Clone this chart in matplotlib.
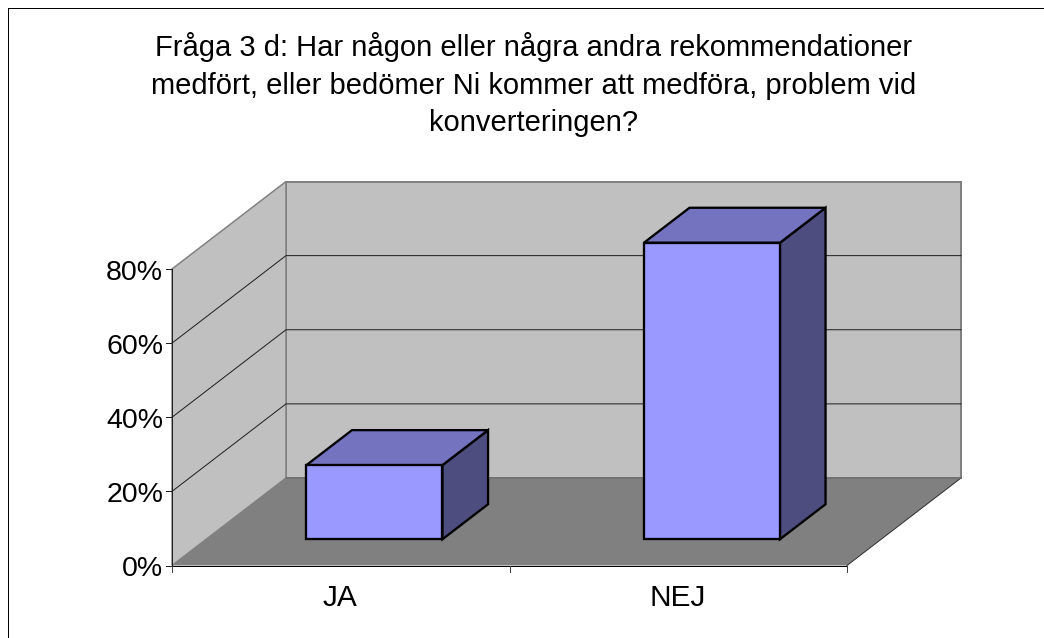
import matplotlib
matplotlib.use("Agg")
import matplotlib.pyplot as plt
from matplotlib.patches import Polygon

plt.rcParams['font.family'] = ['Liberation Sans', 'DejaVu Sans']

# Data
title_text = ("Fråga 3 d: Har någon eller några andra rekommendationer\n"
              "medfört, eller bedömer Ni kommer att medföra, problem vid\n"
              "konverteringen?")
categories = ["JA", "NEJ"]
values = [20, 80]
y_ticks = [0, 20, 40, 60, 80]
y_tick_labels = ["0%", "20%", "40%", "60%", "80%"]

# Oblique projection (layout, in pixels)
X0, Y0 = 172.0, 565.5      # front-left floor corner
CAT_W = 337.5              # pixels per category
PER_VAL = 296.5 / 80       # pixels per percent
DX, DY = 114.0, 87.5       # depth vector
WALL_TOP = 80              # wall height in value units


def P(cat, val, depth):
    return (X0 + cat * CAT_W + depth * DX, Y0 - val * PER_VAL - depth * DY)


fig = plt.figure(figsize=(10.44, 6.38), dpi=100, facecolor='white')
ax = fig.add_axes([0, 0, 1, 1])
ax.set_xlim(0, 1044)
ax.set_ylim(638, 0)
ax.axis('off')

px = 0.72
n = len(categories)
GREY = '#808080'

# Outer frame: top and left edges only
ax.plot([7.5, 1044], [7.5, 7.5], color='black', lw=px, zorder=1)
ax.plot([7.5, 7.5], [7.5, 638], color='black', lw=px, zorder=1)

# Walls and floor
ax.add_patch(Polygon([P(0, 0, 1), P(n, 0, 1), P(n, WALL_TOP, 1), P(0, WALL_TOP, 1)],
                     fc='#C0C0C0', ec=GREY, lw=2 * px, joinstyle='miter', zorder=2))
ax.add_patch(Polygon([P(0, 0, 0), P(0, 0, 1), P(0, WALL_TOP, 1), P(0, WALL_TOP, 0)],
                     fc='#C0C0C0', ec=GREY, lw=1.5 * px, joinstyle='miter', zorder=2))
ax.add_patch(Polygon([P(0, 0, 0), P(n, 0, 0), P(n, 0, 1), P(0, 0, 1)],
                     fc=GREY, ec='none', zorder=3))
ax.plot(*zip(P(n, 0, 0), P(n, 0, 1)), color='#303030', lw=px, zorder=4)
ax.plot(*zip(P(0, 0, 1), P(n, 0, 1)), color='#707070', lw=1.5 * px, zorder=4)

# Gridlines
for v in y_ticks[1:-1]:
    ax.plot(*zip(P(0, v, 0), P(0, v, 1), P(n, v, 1)), color='#202020', lw=px, zorder=4,
            solid_joinstyle='miter')

# Axes
ax.plot(*zip(P(0, 0, 0), P(0, y_ticks[-1], 0)), color='#202020', lw=px, zorder=5)
ax.plot(*zip(P(0, 0, 0), P(n, 0, 0)), color='black', lw=px, zorder=5)
for v, lab in zip(y_ticks, y_tick_labels):
    x, y = P(0, v, 0)
    ax.plot([x - 6, x], [y, y], color='#202020', lw=px, zorder=5)
    ax.text(x - 9, y + 1, lab, ha='right', va='center_baseline', fontsize=20.5, color='black')
for i in range(n + 1):
    x, y = P(i, 0, 0)
    ax.plot([x, x], [y, y + 6], color='#404040', lw=px, zorder=5)
for i, c in enumerate(categories):
    x, y = P(i + 0.5, 0, 0)
    ax.text(x - 0.5, 606, c, ha='center', va='baseline', fontsize=21.5, color='black')

# Bars
D0, D1 = 0.30, 0.70
GAP, BAR_W = 0.297, 0.403
for i, v in enumerate(values):
    a, b = i + GAP, i + GAP + BAR_W
    style = dict(ec='black', lw=2.3 * px, joinstyle='miter', zorder=6)
    ax.add_patch(Polygon([P(b, 0, D0), P(b, 0, D1), P(b, v, D1), P(b, v, D0)], fc='#4D4D80', **style))
    ax.add_patch(Polygon([P(a, v, D0), P(b, v, D0), P(b, v, D1), P(a, v, D1)], fc='#7373BF', **style))
    ax.add_patch(Polygon([P(a, 0, D0), P(b, 0, D0), P(b, v, D0), P(a, v, D0)], fc='#9999FF', **style))

# Title
ax.text(533.5, 84.5, title_text, ha='center', va='center', fontsize=21, color='black',
        linespacing=1.43, multialignment='center')

fig.savefig('out.png', dpi=100, facecolor='white')
